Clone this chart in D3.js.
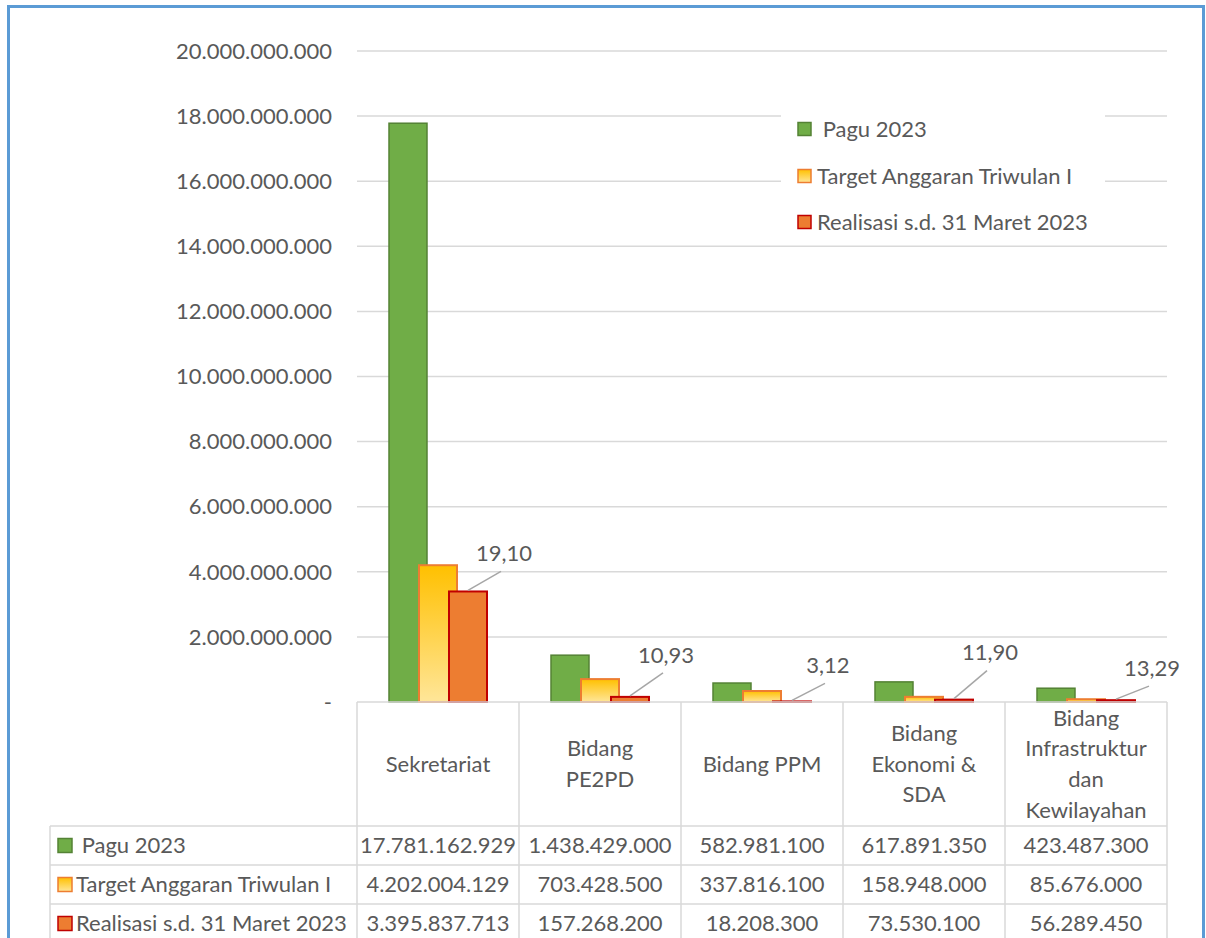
<!doctype html>
<html lang="en">
<head>
<meta charset="utf-8">
<title>Anggaran Triwulan I 2023</title>
<script src="https://cdn.jsdelivr.net/npm/d3@7"></script>
<style>
body { margin: 0; background: #fff; }
svg text { font-family: Lato, "Open Sans", sans-serif; fill: #595959; font-size: 22px; white-space: pre; }
</style>
</head>
<body>
<svg id="chart" width="1206" height="938"></svg>
<script>
var categories = [["Sekretariat"], ["Bidang", "PE2PD"], ["Bidang PPM"], ["Bidang", "Ekonomi &", "SDA"], ["Bidang", "Infrastruktur", "dan", "Kewilayahan"]];
var seriesNames = [" Pagu 2023", "Target Anggaran Triwulan I", "Realisasi s.d. 31 Maret 2023"];
var pagu = [17781162929, 1438429000, 582981100, 617891350, 423487300];
var target = [4202004129, 703428500, 337816100, 158948000, 85676000];
var realisasi = [3395837713, 157268200, 18208300, 73530100, 56289450];
var yTicks = [0, 2e9, 4e9, 6e9, 8e9, 10e9, 12e9, 14e9, 16e9, 18e9, 20e9];
// vertical offset of each percentage label above its bar
var labelDy = [-38, -42, -36, -47, -32];

var series = [pagu, target, realisasi];
var id = d3.formatLocale({decimal: ",", thousands: ".", grouping: [3], currency: ["Rp", ""]});
var fmtNum = id.format(",.0f");
var fmtPct = id.format(".2f");

var svg = d3.select("#chart");
var gridColor = "#d9d9d9";

var defs = svg.append("defs");
var grad = defs.append("linearGradient").attr("id", "gOrange")
  .attr("x1", 0).attr("y1", 0).attr("x2", 0).attr("y2", 1);
grad.append("stop").attr("offset", "0%").attr("stop-color", "#ffc000");
grad.append("stop").attr("offset", "100%").attr("stop-color", "#ffe699");

var styles = [
  {fill: "#70ad47", stroke: "#548235"},
  {fill: "url(#gOrange)", stroke: "#ed7d31"},
  {fill: "#ed7d31", stroke: "#c00000"}
];

var plotL = 357, plotR = 1167, plotT = 51, zero = 702;
var x = d3.scaleBand().domain(d3.range(categories.length)).range([plotL, plotR]);
var y = d3.scaleLinear().domain([0, 20e9]).range([zero, plotT]);
var barW = 38, step = 30;

// gridlines
svg.append("g").selectAll("line")
  .data(yTicks.filter(function(d) { return d > 0; }))
  .enter().append("line")
  .attr("x1", plotL).attr("x2", plotR)
  .attr("y1", function(d) { return y(d); }).attr("y2", function(d) { return y(d); })
  .attr("stroke", gridColor).attr("stroke-width", 1.5);

// y axis labels
svg.append("g").selectAll("text")
  .data(yTicks)
  .enter().append("text")
  .attr("x", 332)
  .attr("y", function(d) { return y(d); })
  .attr("dy", "0.35em")
  .attr("text-anchor", "end")
  .text(function(d) { return d === 0 ? "-" : fmtNum(d); });

// bars
series.forEach(function(vals, s) {
  svg.append("g").selectAll("rect")
    .data(vals)
    .enter().append("rect")
    .attr("x", function(d, i) { return x(i) + x.bandwidth() / 2 + (s - 1) * step - barW / 2; })
    .attr("y", function(d) { return y(d); })
    .attr("width", barW)
    .attr("height", function(d) { return zero - y(d); })
    .attr("fill", styles[s].fill)
    .attr("stroke", styles[s].stroke)
    .attr("stroke-width", s === 0 ? 1.5 : 2);
});

// percentage labels with leader lines
var lab = svg.append("g").selectAll("g")
  .data(realisasi)
  .enter().append("g");
function barTopX(i) { return x(i) + x.bandwidth() / 2 + step; }
lab.append("line")
  .attr("x1", function(d, i) { return barTopX(i); })
  .attr("y1", function(d) { return y(d) - 1; })
  .attr("x2", function(d, i) { return barTopX(i) + 33; })
  .attr("y2", function(d, i) { return y(d) + labelDy[i] + 18; })
  .attr("stroke", "#a6a6a6").attr("stroke-width", 1.5);
lab.append("text")
  .attr("x", function(d, i) { return barTopX(i) + 36; })
  .attr("y", function(d, i) { return y(d) + labelDy[i]; })
  .attr("dy", "0.35em")
  .attr("text-anchor", "middle")
  .text(function(d, i) { return fmtPct(d / pagu[i] * 100); });

// legend
var lg = svg.append("g");
lg.append("rect").attr("x", 781).attr("y", 100).attr("width", 324).attr("height", 140).attr("fill", "#fff");
var legY = [129, 176, 222];
seriesNames.forEach(function(name, s) {
  lg.append("rect").attr("x", 798).attr("y", legY[s] - 6.5).attr("width", 13).attr("height", 13)
    .attr("fill", styles[s].fill).attr("stroke", styles[s].stroke).attr("stroke-width", 1.5);
  lg.append("text").attr("x", 817).attr("y", legY[s]).attr("dy", "0.35em").text(name);
});

// data table
var tbl = svg.append("g");
var rowY = [826, 865, 904, 943];
var tableLeft = 50;
tbl.append("line").attr("x1", plotL).attr("x2", plotR).attr("y1", zero).attr("y2", zero)
  .attr("stroke", gridColor).attr("stroke-width", 1.5);
rowY.forEach(function(ry) {
  tbl.append("line").attr("x1", tableLeft).attr("x2", plotR).attr("y1", ry).attr("y2", ry)
    .attr("stroke", gridColor).attr("stroke-width", 1.5);
});
x.domain().concat([categories.length]).forEach(function(i) {
  var xx = i < categories.length ? x(i) : plotR;
  tbl.append("line").attr("x1", xx).attr("x2", xx).attr("y1", zero).attr("y2", 943)
    .attr("stroke", gridColor).attr("stroke-width", 1.5);
});
tbl.append("line").attr("x1", tableLeft).attr("x2", tableLeft).attr("y1", 826).attr("y2", 943)
  .attr("stroke", gridColor).attr("stroke-width", 1.5);

// category headers
var lineH = 30.6;
categories.forEach(function(lines, i) {
  var cy = (zero + 826) / 2 - (lines.length - 1) * lineH / 2;
  var t = tbl.append("text")
    .attr("x", x(i) + x.bandwidth() / 2)
    .attr("text-anchor", "middle");
  lines.forEach(function(ln, k) {
    t.append("tspan").attr("x", x(i) + x.bandwidth() / 2)
      .attr("y", cy + k * lineH).attr("dy", "0.35em").text(ln);
  });
});

// rows
series.forEach(function(vals, s) {
  var cy = (rowY[s] + rowY[s + 1]) / 2;
  tbl.append("rect").attr("x", 58).attr("y", cy - 7).attr("width", 14).attr("height", 14)
    .attr("fill", styles[s].fill).attr("stroke", styles[s].stroke).attr("stroke-width", 1.5);
  tbl.append("text").attr("x", 76).attr("y", cy).attr("dy", "0.35em").text(seriesNames[s]);
  tbl.selectAll(null).data(vals).enter().append("text")
    .attr("x", function(d, i) { return x(i) + x.bandwidth() / 2; })
    .attr("y", cy).attr("dy", "0.35em")
    .attr("text-anchor", "middle")
    .text(function(d) { return fmtNum(d); });
});

// outer blue frame
svg.append("rect").attr("x", 8.5).attr("y", 6.5).attr("width", 1195).attr("height", 960)
  .attr("fill", "none").attr("stroke", "#5b9bd5").attr("stroke-width", 3);
</script>
</body>
</html>
